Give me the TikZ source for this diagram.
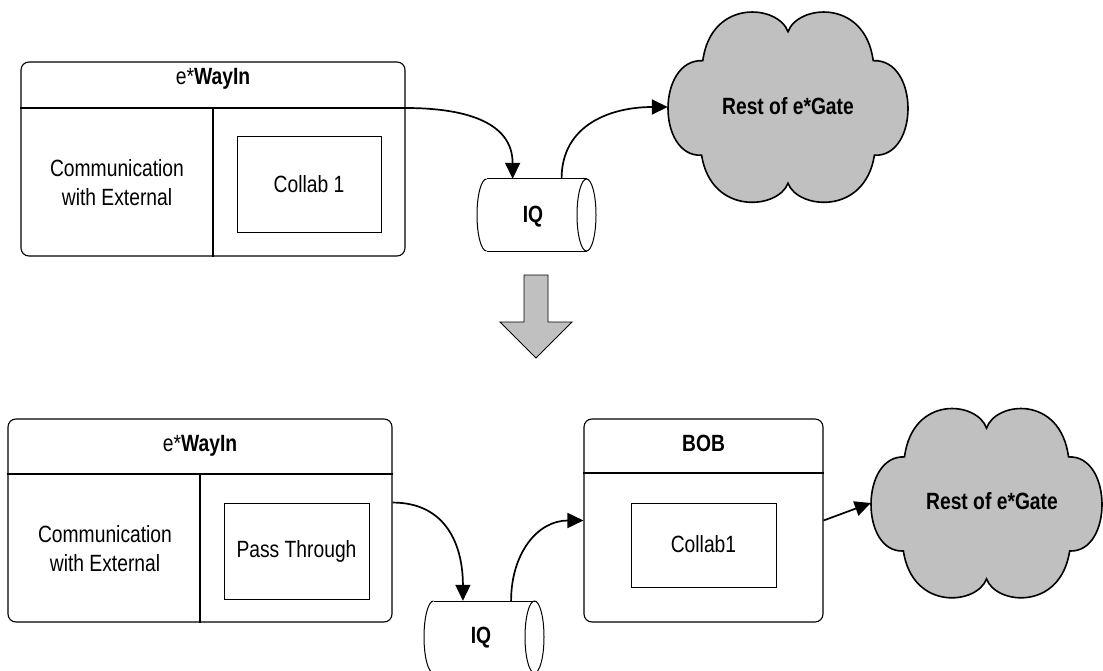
\documentclass[tikz,border=0pt]{standalone}
\usepackage{fontspec}
\setmainfont{Liberation Sans}[FakeStretch=0.82]
\usetikzlibrary{arrows.meta,calc}
\definecolor{cloudgray}{HTML}{C0C0C0}
\newcommand\mycloud[4]{%
\begin{scope}[shift={(#1,#2)},xscale=#3,yscale=#4]
\draw[cloudline] (0,0.78) .. controls (-0.08,1.06) and (-0.64,1.13) .. (-0.71,0.48)
 .. controls (-1.095,0.5) and (-1.095,-0.52) .. (-0.72,-0.5)
 .. controls (-0.64,-1.13) and (-0.08,-1.06) .. (0,-0.79)
 .. controls (0.08,-1.06) and (0.64,-1.13) .. (0.72,-0.5)
 .. controls (1.095,-0.52) and (1.095,0.5) .. (0.71,0.48)
 .. controls (0.64,1.13) and (0.08,1.06) .. (0,0.78) -- cycle;
\end{scope}}
\newcommand\mycyl[3]{%
\begin{scope}[shift={(#1,#2)}]
\pgfmathsetmacro\cylhw{#3-9.5}
\draw[cylline] (-\cylhw,36) -- (\cylhw,36);
\draw[cylline] (-\cylhw,-36) -- (\cylhw,-36);
\draw[cylline] (-\cylhw,36) arc[start angle=90,end angle=270,x radius=9.5,y radius=36];
\draw[cylline] (\cylhw,0) ellipse[x radius=9.5,y radius=36];
\end{scope}}
\begin{document}
\begin{tikzpicture}[x=1pt,y=1pt,
 outerbox/.style={draw,line width=1.1pt,rounded corners=8pt,inner sep=0pt},
 innerbox/.style={draw,line width=0.9pt,inner sep=0pt},
 ghost/.style={inner sep=0pt},
 divline/.style={line width=1.1pt},
 conn/.style={line width=1.7pt,-{Triangle[length=16pt,width=15pt]}},
 cloudline/.style={line width=1.6pt,fill=cloudgray},
 cylline/.style={line width=1pt},
 lbl/.style={inner sep=0pt,anchor=base,font=\fontsize{23.5}{29}\selectfont},
 ttl/.style={inner sep=0pt,anchor=base,font=\fontsize{23.5}{29}\selectfont\bfseries},
 multi/.style={inner sep=0pt,align=center,font=\fontsize{23.5}{29}\selectfont}
]
\useasboundingbox (0,-671) rectangle (1103,0);

% ---------- top row ----------
\node[outerbox,minimum width=384pt,minimum height=194pt] (w1) at (213,-159) {};
\coordinate (h1) at (0,-108);
\draw[divline] (w1.west |- h1) -- (w1.east |- h1);
\draw[divline] (w1.center |- h1) -- (w1.south);
\node[lbl] (w1t) at (213,-85) {e*\textbf{WayIn}};
\node[multi] (w1c) at (117,-183) {Communication\\with External};
\node[innerbox,minimum width=144pt,minimum height=96pt] (c1) at (309,-184) {};
\node[lbl] (c1t) at (309,-193) {Collab 1};

\node[ghost,minimum width=119pt,minimum height=72pt] (iq1) at (536.5,-215) {};
\mycyl{536.5}{-215}{59.5}
\node[ttl] (iq1t) at (533,-223) {IQ};

\mycloud{788}{-107}{120}{96.5}
\node[ghost,minimum width=240pt,minimum height=193pt] (cl1) at (788,-107) {};
\node[ttl] (cl1t) at (788,-115) {Rest of e*Gate};

\draw[conn] (w1.east |- h1) to[out=0,in=90,looseness=1.15] ($(iq1.north west)!0.3!(iq1.north east)$);
\draw[conn] ($(iq1.north west)!0.71!(iq1.north east)$) to[out=90,in=180,looseness=1.1] (cl1.west);

% ---------- transition arrow ----------
\draw[fill=cloudgray,line width=0.9pt] (524,-275) -- (548,-275) -- (548,-322) -- (572,-322)
  -- (536,-358) -- (500,-322) -- (524,-322) -- cycle;

% ---------- bottom row ----------
\node[outerbox,minimum width=384pt,minimum height=203pt] (w2) at (200,-520.5) {};
\coordinate (h2) at (0,-474);
\draw[divline] (w2.west |- h2) -- (w2.east |- h2);
\draw[divline] (w2.center |- h2) -- (w2.south);
\node[lbl] (w2t) at (200,-451) {e*\textbf{WayIn}};
\node[multi] (w2c) at (105,-549) {Communication\\with External};
\node[innerbox,minimum width=145pt,minimum height=96pt] (pt) at (296.5,-551) {};
\node[lbl] (ptt) at (296.5,-557) {Pass Through};

\node[ghost,minimum width=120pt,minimum height=72pt] (iq2) at (484,-637) {};
\mycyl{484}{-637}{60}
\node[ttl] (iq2t) at (481,-643) {IQ};

\node[outerbox,minimum width=239pt,minimum height=203pt] (bob) at (703.5,-520.5) {};
\coordinate (h3) at (0,-473);
\draw[divline] (bob.west |- h3) -- (bob.east |- h3);
\node[ttl] (bobt) at (703.5,-451) {BOB};
\node[innerbox,minimum width=145pt,minimum height=84pt] (c2) at (703.5,-545) {};
\node[lbl] (c2t) at (703.5,-552) {Collab1};

\mycloud{986.5}{-503}{115.5}{96}
\node[ghost,minimum width=231pt,minimum height=192pt] (cl2) at (986.5,-503) {};
\node[ttl] (cl2t) at (992,-509) {Rest of e*Gate};

\draw[conn] (w2.east |- pt.north) to[out=0,in=90,looseness=1.15] ($(iq2.north west)!0.325!(iq2.north east)$);
\draw[conn] ($(iq2.north west)!0.725!(iq2.north east)$) to[out=90,in=180,looseness=1.1] (bob.west);
\draw[conn] (bob.east) -- (cl2.west);
\end{tikzpicture}
\end{document}
